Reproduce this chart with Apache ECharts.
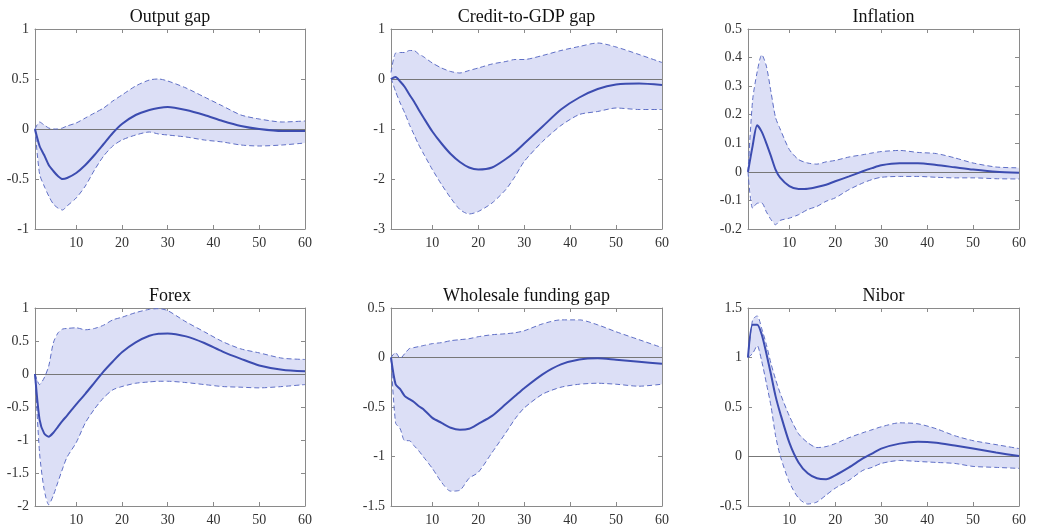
<!DOCTYPE html>
<html>
<head>
<meta charset="utf-8">
<script src="https://cdn.jsdelivr.net/npm/echarts@6/dist/echarts.min.js"></script>
<style>
  html, body { margin: 0; padding: 0; background: #fff; }
  #chart { width: 1037px; height: 527px; }
</style>
</head>
<body>
<div id="chart"></div>
<script>
// Impulse responses over 60 periods: median with upper/lower bands
const horizons = [1,2,3,4,5,6,7,8,10,12,14,16,18,20,23,26,28,30,34,38,42,46,50,55,60];
const xTicks = [10,20,30,40,50,60];

const titles = ['Output gap', 'Credit-to-GDP gap', 'Inflation', 'Forex', 'Wholesale funding gap', 'Nibor'];

// Output gap
const outputMedian = [0,-0.17,-0.26,-0.36,-0.42,-0.47,-0.50,-0.49,-0.44,-0.36,-0.26,-0.15,-0.04,0.05,0.14,0.19,0.21,0.22,0.19,0.14,0.08,0.03,0.0,-0.02,-0.02];
const outputUpper  = [0,0.07,0.04,0.01,0.0,0.0,0.01,0.03,0.06,0.11,0.16,0.21,0.28,0.34,0.43,0.49,0.50,0.48,0.41,0.32,0.23,0.14,0.10,0.07,0.08];
const outputLower  = [0,-0.45,-0.57,-0.67,-0.75,-0.79,-0.81,-0.77,-0.69,-0.57,-0.41,-0.27,-0.17,-0.11,-0.06,-0.03,-0.05,-0.06,-0.08,-0.11,-0.13,-0.16,-0.17,-0.16,-0.14];

// Credit-to-GDP gap
const creditMedian = [0,0.04,-0.05,-0.16,-0.31,-0.45,-0.61,-0.76,-1.05,-1.29,-1.50,-1.66,-1.77,-1.81,-1.77,-1.60,-1.46,-1.29,-0.95,-0.61,-0.37,-0.20,-0.11,-0.09,-0.12];
const creditUpper  = [0.13,0.52,0.53,0.53,0.57,0.57,0.50,0.45,0.32,0.22,0.15,0.12,0.17,0.22,0.30,0.35,0.39,0.39,0.47,0.57,0.65,0.72,0.64,0.49,0.33];
const creditLower  = [0.02,-0.25,-0.48,-0.68,-0.91,-1.11,-1.31,-1.48,-1.81,-2.11,-2.38,-2.61,-2.70,-2.65,-2.48,-2.21,-1.95,-1.65,-1.25,-0.93,-0.71,-0.65,-0.58,-0.61,-0.61];

// Inflation
const inflMedian = [0,0.09,0.163,0.14,0.10,0.055,0.008,-0.02,-0.05,-0.06,-0.059,-0.053,-0.045,-0.033,-0.016,0.002,0.013,0.023,0.03,0.03,0.024,0.016,0.008,0.0,-0.003];
const inflUpper  = [0,0.25,0.35,0.41,0.37,0.28,0.19,0.15,0.078,0.043,0.031,0.027,0.035,0.04,0.052,0.06,0.066,0.071,0.075,0.068,0.064,0.049,0.031,0.017,0.014];
const inflLower  = [0,-0.127,-0.11,-0.109,-0.14,-0.167,-0.185,-0.17,-0.162,-0.15,-0.132,-0.121,-0.103,-0.091,-0.062,-0.039,-0.027,-0.019,-0.016,-0.016,-0.019,-0.021,-0.021,-0.024,-0.025];

// Forex
const forexMedian = [0,-0.69,-0.90,-0.95,-0.89,-0.80,-0.71,-0.63,-0.46,-0.30,-0.13,0.04,0.19,0.33,0.48,0.58,0.61,0.615,0.57,0.47,0.34,0.23,0.13,0.065,0.04];
const forexUpper  = [0,-0.16,-0.06,0.12,0.47,0.62,0.68,0.69,0.70,0.67,0.69,0.74,0.82,0.86,0.93,0.98,0.99,0.96,0.79,0.64,0.49,0.38,0.32,0.24,0.22];
const forexLower  = [0,-1.2,-1.75,-1.98,-1.84,-1.64,-1.44,-1.26,-1.04,-0.74,-0.53,-0.36,-0.24,-0.19,-0.14,-0.12,-0.11,-0.11,-0.13,-0.16,-0.19,-0.20,-0.21,-0.19,-0.16];

// Wholesale funding gap
const fundMedian = [0,-0.27,-0.32,-0.39,-0.42,-0.45,-0.49,-0.52,-0.61,-0.66,-0.71,-0.73,-0.72,-0.67,-0.59,-0.47,-0.39,-0.31,-0.17,-0.07,-0.02,-0.007,-0.023,-0.043,-0.063];
const fundUpper  = [0,0.05,-0.01,0.04,0.09,0.10,0.11,0.12,0.14,0.15,0.17,0.18,0.19,0.21,0.23,0.24,0.25,0.27,0.34,0.38,0.38,0.33,0.26,0.18,0.10];
const fundLower  = [0,-0.66,-0.72,-0.84,-0.84,-0.89,-0.94,-1.0,-1.12,-1.26,-1.35,-1.34,-1.22,-1.16,-0.96,-0.76,-0.62,-0.51,-0.37,-0.30,-0.27,-0.26,-0.27,-0.29,-0.27];

// Nibor
const niborMedian = [1.0,1.33,1.33,1.23,1.04,0.83,0.61,0.44,0.14,-0.06,-0.17,-0.22,-0.23,-0.19,-0.11,-0.02,0.03,0.08,0.13,0.15,0.14,0.11,0.08,0.04,0.005];
const niborUpper  = [1.0,1.38,1.42,1.29,1.13,0.94,0.78,0.64,0.41,0.23,0.14,0.09,0.10,0.13,0.19,0.24,0.27,0.30,0.34,0.33,0.28,0.21,0.16,0.12,0.08];
const niborLower  = [1.0,1.04,1.12,0.96,0.74,0.51,0.21,0.01,-0.26,-0.42,-0.48,-0.46,-0.39,-0.32,-0.24,-0.14,-0.11,-0.07,-0.04,-0.05,-0.06,-0.07,-0.10,-0.11,-0.12];

// y-axis ranges per panel
const yMins = [-1, -3, -0.2, -2, -1.5, -0.5];
const yMaxs = [1, 1, 0.5, 1, 0.5, 1.5];
const yIntervals = [0.5, 1, 0.1, 0.5, 0.5, 0.5];

const panels = [
  [outputMedian, outputUpper, outputLower],
  [creditMedian, creditUpper, creditLower],
  [inflMedian, inflUpper, inflLower],
  [forexMedian, forexUpper, forexLower],
  [fundMedian, fundUpper, fundLower],
  [niborMedian, niborUpper, niborLower]
];

// layout of the 2x3 grid of panels
const colLeft = [35, 391, 748];
const colWidth = [270, 271, 271];
const rowTop = [29, 308];
const plotH = 200;

const BAND = '#dcdff6';
const EDGE = '#5f6fc6';
const MEDIAN = '#3c4cb0';
const BOX = '#8a8a8a';
const FONT = 'Liberation Serif';

const grids = [], xAxes = [], yAxes = [], series = [], titleList = [];

panels.forEach((p, i) => {
  const r = Math.floor(i / 3), c = i % 3;
  grids.push({ left: colLeft[c], top: rowTop[r], width: colWidth[c], height: plotH });
  titleList.push({
    text: titles[i],
    left: colLeft[c] + colWidth[c] / 2,
    top: rowTop[r] - 21,
    textAlign: 'center',
    padding: 0,
    textStyle: { fontFamily: FONT, fontSize: 18, fontWeight: 'normal', color: '#111' }
  });

  const axisCommon = {
    axisLine: { show: true, onZero: false, lineStyle: { color: BOX, width: 1 } },
    splitLine: { show: false }
  };
  // bottom x axis with labels
  xAxes.push(Object.assign({
    gridIndex: i, type: 'value', min: 1, max: 60, position: 'bottom',
    axisTick: { inside: true, length: 4, lineStyle: { color: BOX }, customValues: xTicks },
    axisLabel: { fontFamily: FONT, fontSize: 14, color: '#333', margin: 7, customValues: xTicks }
  }, axisCommon));
  // top x axis: box edge with ticks only
  xAxes.push(Object.assign({
    gridIndex: i, type: 'value', min: 1, max: 60, position: 'top',
    axisTick: { inside: true, length: 4, lineStyle: { color: BOX }, customValues: xTicks },
    axisLabel: { show: false }
  }, axisCommon));
  // left y axis with labels
  yAxes.push(Object.assign({
    gridIndex: i, type: 'value', min: yMins[i], max: yMaxs[i], interval: yIntervals[i], position: 'left',
    axisTick: { inside: true, length: 4, lineStyle: { color: BOX } },
    axisLabel: { fontFamily: FONT, fontSize: 14, color: '#333', margin: 6,
      formatter: v => String(Math.round(v * 10) / 10) }
  }, axisCommon));
  // right y axis: box edge with ticks only
  yAxes.push(Object.assign({
    gridIndex: i, type: 'value', min: yMins[i], max: yMaxs[i], interval: yIntervals[i], position: 'right',
    axisTick: { inside: true, length: 4, lineStyle: { color: BOX } },
    axisLabel: { show: false }
  }, axisCommon));

  const xi = 2 * i, yi = 2 * i;
  const [med, up, lo] = p;
  const toPts = arr => horizons.map((h, k) => [h, arr[k]]);

  // shaded band between lower and upper bounds
  series.push({
    type: 'custom', xAxisIndex: xi, yAxisIndex: yi, silent: true, z: 1,
    data: [[horizons[0], med[0]]],
    renderItem: (params, api) => {
      const top = horizons.map((h, k) => api.coord([h, up[k]]));
      const bottom = horizons.map((h, k) => api.coord([h, lo[k]])).reverse();
      return {
        type: 'polygon',
        shape: { points: top.concat(bottom) },
        style: { fill: BAND, stroke: null }
      };
    }
  });
  // dashed band edges
  [up, lo].forEach(arr => series.push({
    type: 'line', xAxisIndex: xi, yAxisIndex: yi, data: toPts(arr), symbol: 'none', smooth: 0.25,
    silent: true, lineStyle: { color: EDGE, width: 1, type: [5, 3] }, z: 3
  }));
  // median response with zero reference line
  series.push({
    type: 'line', xAxisIndex: xi, yAxisIndex: yi, data: toPts(med), symbol: 'none', smooth: 0.25,
    silent: true, lineStyle: { color: MEDIAN, width: 2 }, z: 5,
    markLine: {
      silent: true, symbol: 'none', label: { show: false }, animation: false,
      lineStyle: { color: '#777', width: 1, type: 'solid' },
      data: [{ yAxis: 0 }], z: 2
    }
  });
});

const chart = echarts.init(document.getElementById('chart'), null, { renderer: 'canvas' });
chart.setOption({
  animation: false,
  backgroundColor: '#fff',
  title: titleList,
  grid: grids,
  xAxis: xAxes,
  yAxis: yAxes,
  series: series
});
</script>
</body>
</html>
